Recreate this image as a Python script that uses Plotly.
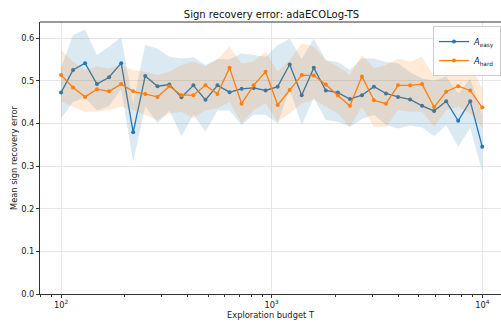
import numpy as np
import plotly.graph_objects as go

# Exploration budgets (log-spaced from 1e2 to 1e4)
budget_T = [100, 114, 130, 148, 169, 193, 220, 251, 287, 327, 373, 425,
            485, 553, 631, 720, 821, 936, 1068, 1218, 1389, 1585, 1808, 2062,
            2352, 2683, 3060, 3490, 3981, 4541, 5179, 5908, 6739, 7686, 8767, 10000]

# Mean sign recovery error, A_easy instance
easy_mean = [0.472, 0.525, 0.541, 0.492, 0.508, 0.541, 0.379, 0.511, 0.487, 0.491,
             0.461, 0.489, 0.455, 0.489, 0.473, 0.481, 0.483, 0.477, 0.486, 0.538,
             0.466, 0.530, 0.477, 0.472, 0.457, 0.466, 0.486, 0.470, 0.462, 0.456,
             0.441, 0.429, 0.452, 0.406, 0.452, 0.345]
easy_lo = [0.412, 0.450, 0.460, 0.430, 0.440, 0.480, 0.310, 0.440, 0.400, 0.430,
           0.370, 0.420, 0.380, 0.430, 0.430, 0.396, 0.420, 0.420, 0.400, 0.480,
           0.396, 0.460, 0.408, 0.404, 0.392, 0.410, 0.420, 0.396, 0.388, 0.395,
           0.390, 0.370, 0.396, 0.345, 0.389, 0.287]
easy_hi = [0.530, 0.607, 0.620, 0.560, 0.580, 0.602, 0.448, 0.584, 0.575, 0.556,
           0.552, 0.555, 0.537, 0.551, 0.550, 0.564, 0.560, 0.556, 0.583, 0.598,
           0.550, 0.599, 0.548, 0.544, 0.525, 0.552, 0.552, 0.544, 0.541, 0.520,
           0.505, 0.500, 0.510, 0.470, 0.505, 0.420]

# Mean sign recovery error, A_hard instance
hard_mean = [0.513, 0.484, 0.462, 0.480, 0.475, 0.492, 0.475, 0.469, 0.462, 0.487,
             0.466, 0.466, 0.489, 0.469, 0.530, 0.446, 0.489, 0.521, 0.443, 0.478,
             0.513, 0.512, 0.491, 0.465, 0.441, 0.510, 0.454, 0.446, 0.489, 0.489,
             0.492, 0.438, 0.474, 0.487, 0.477, 0.437]
hard_lo = [0.451, 0.439, 0.427, 0.427, 0.431, 0.439, 0.431, 0.419, 0.408, 0.423,
           0.427, 0.412, 0.431, 0.435, 0.450, 0.400, 0.431, 0.447, 0.404, 0.423,
           0.447, 0.455, 0.439, 0.423, 0.392, 0.439, 0.392, 0.392, 0.431, 0.427,
           0.427, 0.392, 0.431, 0.439, 0.423, 0.392]
hard_hi = [0.572, 0.545, 0.525, 0.533, 0.529, 0.537, 0.525, 0.521, 0.513, 0.521,
           0.537, 0.545, 0.533, 0.550, 0.580, 0.540, 0.545, 0.568, 0.521, 0.548,
           0.587, 0.580, 0.548, 0.533, 0.513, 0.560, 0.529, 0.537, 0.552, 0.545,
           0.556, 0.509, 0.533, 0.537, 0.537, 0.482]

x_ticks = [100, 1000, 10000]
x_ticktext = ["10<sup>2</sup>", "10<sup>3</sup>", "10<sup>4</sup>"]
x_minor = [80, 90] + [k * 100 for k in range(2, 10)] + [k * 1000 for k in range(2, 10)]
y_ticks = [0.0, 0.1, 0.2, 0.3, 0.4, 0.5, 0.6]

BLUE = "#1f77b4"
ORANGE = "#ff7f0e"
FONT = "DejaVu Sans"

fig = go.Figure()


def add_series(mean, lo, hi, color, fill, name):
    fig.add_trace(go.Scatter(
        x=budget_T + budget_T[::-1], y=hi + lo[::-1],
        fill="toself", fillcolor=fill, line=dict(width=0),
        mode="lines", hoverinfo="skip", showlegend=False))
    fig.add_trace(go.Scatter(
        x=budget_T, y=mean, mode="lines+markers", name=name,
        line=dict(color=color, width=1.3),
        marker=dict(color=color, size=4)))


add_series(easy_mean, easy_lo, easy_hi, BLUE, "rgba(31,119,180,0.16)",
           "<i>A</i><sub>easy</sub>")
add_series(hard_mean, hard_lo, hard_hi, ORANGE, "rgba(255,127,14,0.16)",
           "<i>A</i><sub>hard</sub>")

axis_common = dict(
    showline=True, linecolor="#333", linewidth=1,
    ticks="outside", ticklen=3, tickwidth=1, tickcolor="#333",
    showgrid=True, gridcolor="#e6e6e6", gridwidth=1,
    zeroline=False, tickfont=dict(family=FONT, size=8.3, color="#222"),
)

fig.update_layout(
    width=501, height=326,
    margin=dict(l=40, r=0, t=22, b=32),
    paper_bgcolor="white", plot_bgcolor="white",
    font=dict(family=FONT, size=8.3, color="#222"),
    title=dict(text="Sign recovery error: adaECOLog-TS", x=271.5 / 501, xanchor="center",
               y=1 - 14 / 326, yanchor="middle",
               font=dict(family=FONT, size=10, color="#111")),
    xaxis=dict(type="log", range=[1.9, 4.089], tickvals=x_ticks, ticktext=x_ticktext,
               minor=dict(tickvals=x_minor, ticks="outside", ticklen=2,
                          tickcolor="#333", showgrid=False),
               title=dict(text="Exploration budget T", standoff=3,
                          font=dict(family=FONT, size=8.3, color="#222")),
               **axis_common),
    yaxis=dict(range=[0, 0.6375], tickvals=y_ticks, tickformat=".1f",
               title=dict(text="Mean sign recovery error", standoff=2,
                          font=dict(family=FONT, size=8.3, color="#222")),
               **axis_common),
    legend=dict(x=1, xanchor="right", y=0.985, yanchor="top",
                bgcolor="rgba(255,255,255,0.8)", bordercolor="#ccc", borderwidth=1,
                font=dict(family=FONT, size=8.3, color="#222"),
                itemwidth=30, tracegroupgap=0),
    showlegend=True,
    shapes=[dict(type="line", xref="paper", yref="paper", x0=0, x1=1, y0=1, y1=1,
                 line=dict(color="#333", width=1))],
)

fig.write_html("out.html")
